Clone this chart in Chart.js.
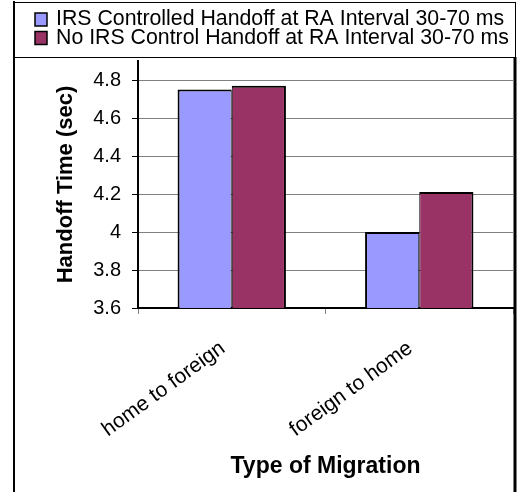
<!DOCTYPE html>
<html>
<head>
<meta charset="utf-8">
<script src="https://cdn.jsdelivr.net/npm/chart.js@4/dist/chart.umd.min.js"></script>
<style>
  html, body { margin: 0; padding: 0; background: #fff; }
  #wrap { width: 518px; height: 492px; position: relative; }
</style>
</head>
<body>
<div id="wrap"><canvas id="c" width="518" height="492"></canvas></div>
<script>
// Handoff time per migration direction, with and without IRS control
const categories = ['home to foreign', 'foreign to home'];
const irsControlled = [4.75, 4.00];
const noIrsControl = [4.77, 4.21];
const seriesNames = [
  'IRS Controlled Handoff at RA Interval 30-70 ms',
  'No IRS Control Handoff at RA Interval 30-70 ms'
];
const seriesColors = ['#9999FF', '#993366'];
const yTicks = [3.6, 3.8, 4.0, 4.2, 4.4, 4.6, 4.8];

const FONT = 'Liberation Sans, Arial, Helvetica, sans-serif';

// Border frame and two-row legend drawn in the band above the plot
const frameAndLegend = {
  id: 'frameAndLegend',
  afterDraw(chart) {
    const ctx = chart.ctx;
    const line = (x1, y1, x2, y2, w) => {
      ctx.lineWidth = w;
      ctx.beginPath();
      ctx.moveTo(x1, y1);
      ctx.lineTo(x2, y2);
      ctx.stroke();
    };
    ctx.save();
    ctx.strokeStyle = '#000';
    line(14, 1, 14, 492, 2);
    line(13, 2.5, 516, 2.5, 1);
    line(515.5, 2, 515.5, 58, 1);
    line(14, 57.5, 516, 57.5, 1);
    line(515, 57, 515, 492, 3);

    ctx.font = '21.3px ' + FONT;
    ctx.textBaseline = 'alphabetic';
    ctx.textAlign = 'left';
    chart.data.datasets.forEach((ds, i) => {
      const top = 13 + i * 18.5;
      ctx.fillStyle = ds.backgroundColor;
      ctx.fillRect(35, top, 12, 13);
      ctx.lineWidth = 1.5;
      ctx.strokeStyle = '#000';
      ctx.strokeRect(35, top, 12, 13);
      ctx.fillStyle = '#000';
      ctx.fillText(ds.label, 56, top + 12);
    });
    ctx.restore();
  }
};

new Chart(document.getElementById('c'), {
  type: 'bar',
  data: {
    labels: categories,
    datasets: [
      {
        label: seriesNames[0],
        data: irsControlled,
        backgroundColor: seriesColors[0],
        borderColor: '#000',
        borderWidth: { top: 2, left: 2, right: 1, bottom: 0 },
        categoryPercentage: 0.578,
        barPercentage: 1.0
      },
      {
        label: seriesNames[1],
        data: noIrsControl,
        backgroundColor: seriesColors[1],
        borderColor: '#000',
        borderWidth: { top: 2, left: 1, right: 2, bottom: 0 },
        categoryPercentage: 0.578,
        barPercentage: 1.0
      }
    ]
  },
  options: {
    responsive: false,
    animation: false,
    devicePixelRatio: 1,
    layout: { padding: { top: 61, left: 14, right: 5, bottom: 0 } },
    plugins: {
      legend: { display: false },
      tooltip: { enabled: false }
    },
    scales: {
      x: {
        grid: {
          offset: true,
          drawOnChartArea: false,
          drawTicks: true,
          tickLength: 6,
          tickColor: '#808080'
        },
        border: { display: true, color: '#000', width: 2 },
        ticks: {
          autoSkip: false,
          minRotation: 36,
          maxRotation: 36,
          padding: 22,
          labelOffset: -9,
          color: '#000',
          font: { family: FONT, size: 21 }
        },
        title: {
          display: true,
          text: 'Type of Migration',
          color: '#000',
          font: { family: FONT, size: 23, weight: 'bold' },
          padding: { top: 0, bottom: 12 }
        },
        afterFit(scale) { scale.height = 184; }
      },
      y: {
        min: 3.6,
        max: 4.9,
        afterBuildTicks(scale) {
          scale.ticks = yTicks.map(v => ({ value: v }));
        },
        grid: {
          color: '#808080',
          lineWidth: 1,
          drawTicks: true,
          tickLength: 6,
          tickColor: '#000'
        },
        border: { display: true, color: '#000', width: 2 },
        ticks: {
          padding: 11,
          color: '#000',
          font: { family: FONT, size: 20 },
          callback: v => String(Number(v.toFixed(1)))
        },
        title: {
          display: true,
          text: 'Handoff Time (sec)',
          color: '#000',
          font: { family: FONT, size: 22, weight: 'bold' },
          padding: { top: 39, bottom: 0 }
        },
        afterFit(scale) { scale.width = 124; }
      }
    }
  },
  plugins: [frameAndLegend]
});
</script>
</body>
</html>
